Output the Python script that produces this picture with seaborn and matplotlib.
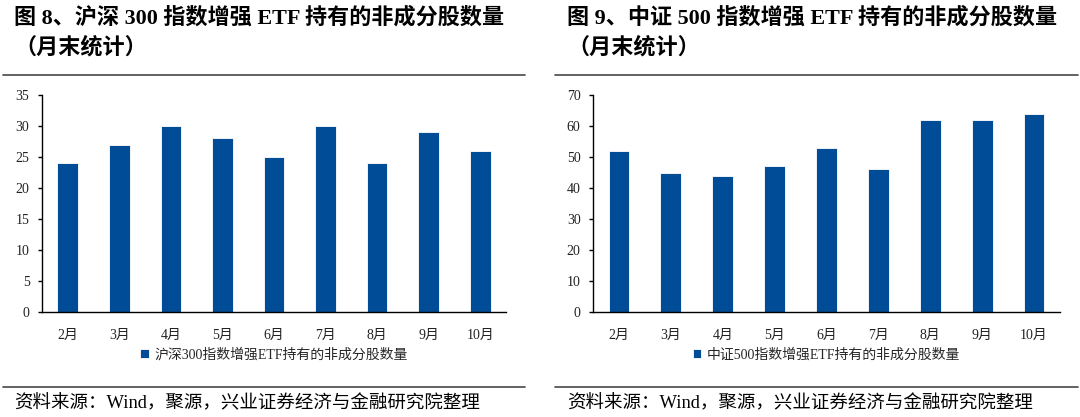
import matplotlib
matplotlib.use("Agg")
import matplotlib.pyplot as plt
from matplotlib.lines import Line2D
import seaborn as sns
import pandas as pd

months = ["2月", "3月", "4月", "5月", "6月", "7月", "8月", "9月", "10月"]
hs300_values = [24, 27, 30, 28, 25, 30, 24, 29, 26]
zz500_values = [52, 45, 44, 47, 53, 46, 62, 62, 64]
hs300_label = "沪深300指数增强ETF持有的非成分股数量"
zz500_label = "中证500指数增强ETF持有的非成分股数量"
title_left = ["图 8、沪深 300 指数增强 ETF 持有的非成分股数量", "（月末统计）"]
title_right = ["图 9、中证 500 指数增强 ETF 持有的非成分股数量", "（月末统计）"]
source_text = "资料来源：Wind，聚源，兴业证券经济与金融研究院整理"
left_ticks = [0, 5, 10, 15, 20, 25, 30, 35]
right_ticks = [0, 10, 20, 30, 40, 50, 60, 70]

sns.set_theme(style="white")
FONTS = ["Liberation Serif", "Noto Sans CJK SC", "DejaVu Sans"]
plt.rcParams["font.family"] = FONTS
BAR = "#004C97"
W, H = 1080, 417

fig = plt.figure(figsize=(10.8, 4.17), dpi=100)

def fx(px):
    return px / W

def fy(py):
    return 1 - py / H

def panel(x0, x1, values, label, ticks, ymax):
    ax = fig.add_axes([fx(x0), fy(312), fx(x1 - x0), fy(95) - fy(312)])
    df = pd.DataFrame({"month": months, "value": values})
    sns.barplot(data=df, x="month", y="value", color=BAR, width=0.4,
                edgecolor="white", linewidth=0.6, saturation=1, label=label, ax=ax)
    ax.set_xlim(-0.5, len(months) - 0.5)
    ax.set_ylim(0, ymax)
    ax.set_yticks(ticks)
    ax.set_xlabel("")
    ax.set_ylabel("")
    for s in ["top", "right"]:
        ax.spines[s].set_visible(False)
    for s in ["left", "bottom"]:
        ax.spines[s].set_color("black")
        ax.spines[s].set_linewidth(1.0)
    ax.tick_params(axis="y", left=True, length=3, width=1, color="black",
                   labelsize=10, pad=6, labelcolor="#222222")
    ax.tick_params(axis="x", bottom=False, labelsize=10, pad=6, labelcolor="#222222")
    for t in ax.get_xticklabels() + ax.get_yticklabels():
        t.set_fontfamily(FONTS)
    ax.grid(False)
    ax.legend(loc="center", bbox_to_anchor=((x0 + x1) / 2 / W, fy(355)),
              bbox_transform=fig.transFigure, frameon=False,
              handlelength=0.6, handleheight=0.6, handletextpad=0.4,
              prop={"family": FONTS, "size": 10})
    return ax

panel(42, 506, hs300_values, hs300_label, left_ticks, 35)
panel(593, 1060, zz500_values, zz500_label, right_ticks, 70)

for x, lines in [(14, title_left), (567, title_right)]:
    fig.text(fx(x), fy(18), lines[0], fontsize=15.9, fontweight="bold",
             family=FONTS, va="center", ha="left", color="black")
    fig.text(fx(x), fy(48), lines[1], fontsize=15.9, fontweight="bold",
             family=FONTS, va="center", ha="left", color="black")
    fig.text(fx(x), fy(403), source_text, fontsize=13.3, family=FONTS,
             va="center", ha="left", color="black")

for xa, xb in [(3, 525), (555, 1078)]:
    for y in (75, 387):
        fig.add_artist(Line2D([fx(xa), fx(xb)], [fy(y), fy(y)],
                              transform=fig.transFigure, color="#555555", lw=1.3))

fig.savefig("out.png", dpi=100)
